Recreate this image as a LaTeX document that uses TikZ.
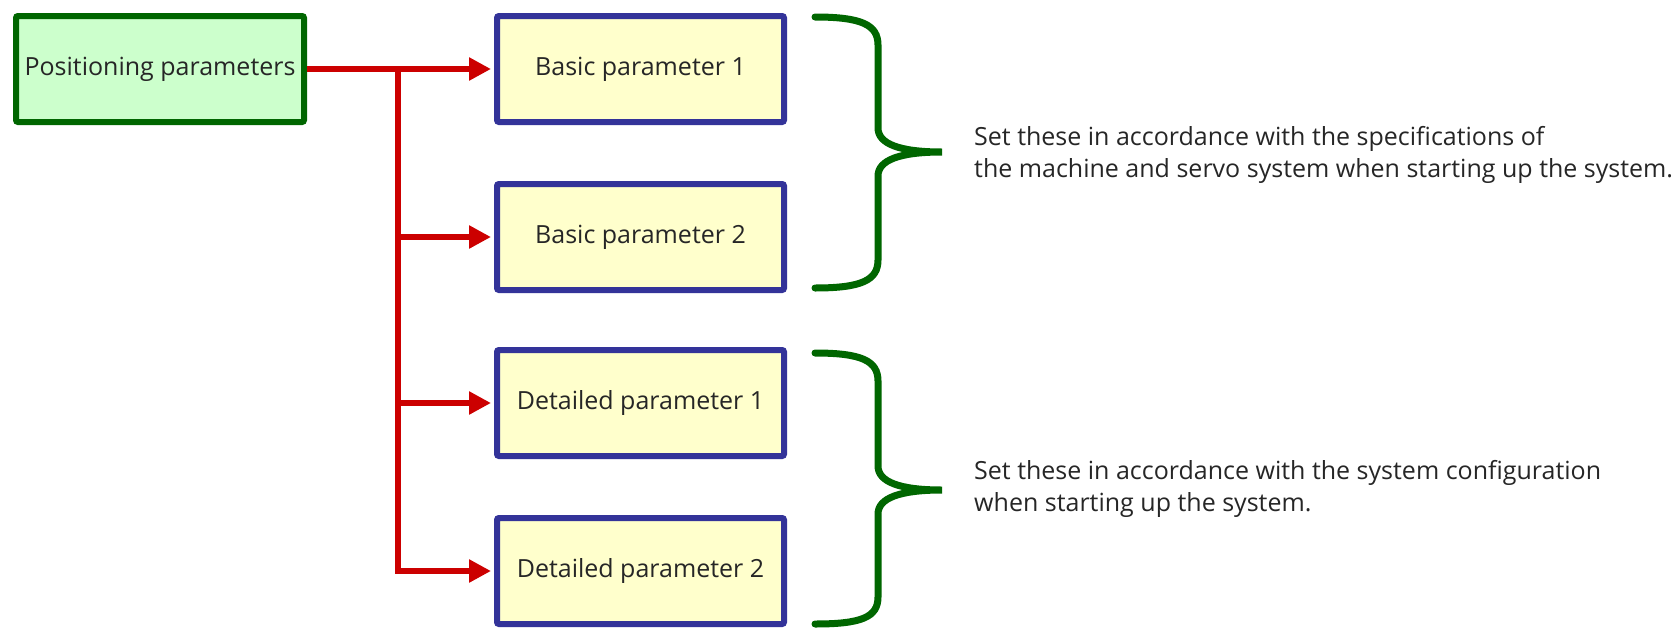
\documentclass[tikz,border=0pt]{standalone}
\usepackage{fontspec}
\setmainfont{Open Sans}
\usepackage{tikz}
\usetikzlibrary{arrows,arrows.meta,positioning,calc}

\definecolor{boxgreen}{RGB}{0,102,0}
\definecolor{fillgreen}{RGB}{204,255,204}
\definecolor{boxblue}{RGB}{51,51,153}
\definecolor{fillyellow}{RGB}{255,255,204}
\definecolor{linered}{RGB}{204,0,0}

\tikzset{
	mainbox/.style={draw=boxgreen, fill=fillgreen, line width=6pt, rounded corners=2pt,
		minimum width=288pt, minimum height=106pt, inner sep=0pt,
		font=\fontsize{25}{30}\selectfont, text=black!85},
	parbox/.style={draw=boxblue, fill=fillyellow, line width=6pt, rounded corners=2pt,
		minimum width=287pt, minimum height=106pt, inner sep=0pt,
		font=\fontsize{25}{30}\selectfont, text=black!85},
	feed/.style={draw=linered, line width=6pt, -{Triangle[length=22pt,width=22pt]}, shorten >=3pt},
	brace/.style={draw=boxgreen, line width=7pt, line cap=round},
	note/.style={anchor=west, align=left, inner sep=0pt,
		font=\fontsize{25}{32}\selectfont, text=black!85}
}

\begin{document}
\begin{tikzpicture}[x=1pt, y=-1pt]
	\useasboundingbox (0,0) rectangle (1678,627); % Rand wie im Original
	
	% Kaesten
	\node[mainbox] (pos) at (160,69) {Positioning parameters};
	\node[parbox] (basic1) at (640.5,69) {Basic parameter 1};
	\node[parbox] (basic2) at (640.5,237) {Basic parameter 2};
	\node[parbox] (det1) at (640.5,403) {Detailed parameter 1};
	\node[parbox] (det2) at (640.5,571) {Detailed parameter 2};
	
	% Verbindungen
	\coordinate (trunk) at (398,69);
	\draw[feed] (pos.east) -- (basic1.west);
	\draw[feed] (trunk) |- (det2.west);
	\draw[feed] (trunk |- basic2.west) -- (basic2.west);
	\draw[feed] (trunk |- det1.west) -- (det1.west);
	
	% Klammern
	\draw[brace] (815,17) .. controls (862,17) and (878,25) .. (878,45) -- (878,128)
		.. controls (878,144) and (900,152) .. (942,152)
		.. controls (900,152) and (878,160) .. (878,176) -- (878,260)
		.. controls (878,280) and (862,288) .. (815,288);
	\draw[brace] (815,353) .. controls (862,353) and (878,361) .. (878,381) -- (878,466)
		.. controls (878,482) and (900,490) .. (942,490)
		.. controls (900,490) and (878,498) .. (878,514) -- (878,597)
		.. controls (878,617) and (862,624) .. (815,624);
	
	% Texte
	\node[note] (note1) at (974,155) {Set these in accordance with the specifications of\\the machine and servo system when starting up the system.};
	\node[note] (note2) at (974,489) {Set these in accordance with the system configuration\\when starting up the system.};
	
	%\draw[help lines, step=50] (0,0) grid (1678,627);
\end{tikzpicture}
\end{document}
